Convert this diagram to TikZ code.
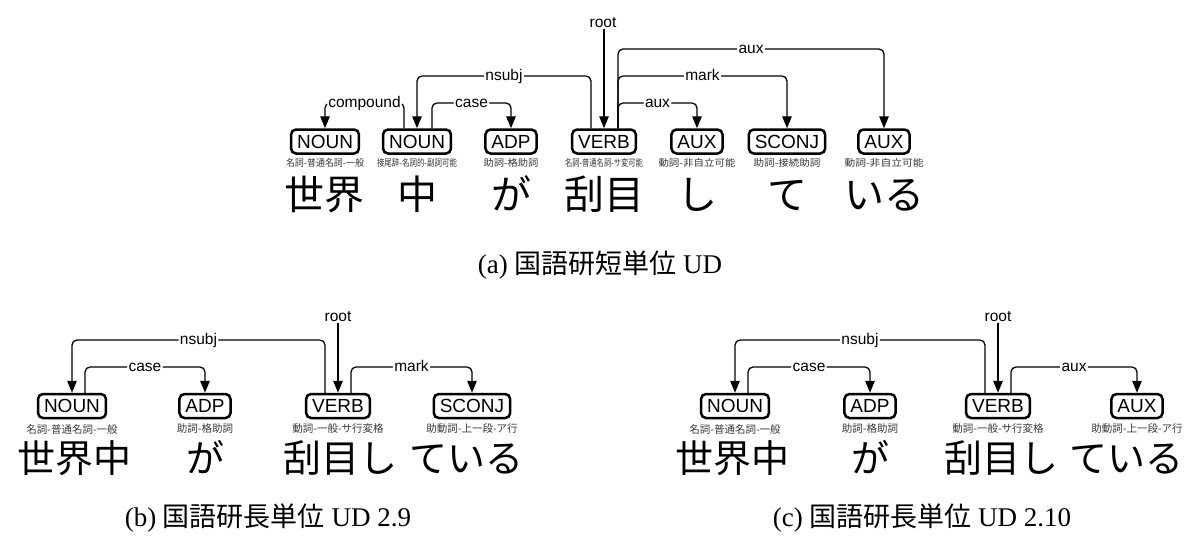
\documentclass[tikz,border=0pt]{standalone}
\usepackage{fontspec}
\usepackage{graphicx}
\setmainfont{Liberation Serif}
\newfontfamily\cjk{Noto Sans CJK JP}
\newfontfamily\lab{Liberation Sans}
\usetikzlibrary{arrows.meta}
\newcommand{\fitsub}[2]{\resizebox{#1pt}{\height}{#2}}
\begin{document}
\begin{tikzpicture}[x=1pt,y=-1pt,
  posbox/.style={draw, line width=2.5pt, rounded corners=5pt,
    font=\lab\fontsize{19}{19}\selectfont, inner xsep=6pt, inner ysep=5.2pt,
    text height=13.6pt, text depth=0pt},
  subT/.style={font=\cjk\fontsize{9.5}{10}\selectfont, text=black!78, inner sep=0pt},
  subB/.style={font=\cjk\fontsize{10.5}{11}\selectfont, text=black!78, inner sep=0pt},
  wordT/.style={font=\cjk\fontsize{40}{40}\selectfont, anchor=base, inner sep=0pt},
  wordB/.style={font=\cjk\fontsize{38}{38}\selectfont, anchor=base, inner sep=0pt},
  dep/.style={line width=1.3pt, rounded corners=5pt, -{Triangle[length=12pt,width=9.5pt]}},
  lbl/.style={fill=white, font=\lab\fontsize{15.5}{15.5}\selectfont, inner xsep=1.5pt,
    inner ysep=1pt, text height=8pt, text depth=0pt},
  rootlbl/.style={font=\lab\fontsize{15.5}{15.5}\selectfont, inner xsep=2pt,
    inner ysep=1.5pt, text height=8pt, text depth=0pt},
  caption/.style={font=\fontsize{27}{30}\selectfont, inner sep=0pt}
]
\useasboundingbox (0,0) rectangle (1191,536);

% ---------------- panel (a) ----------------
\node[posbox] (a1) at (325,141.5) {NOUN};
\node[posbox] (a2) at (417,141.5) {NOUN};
\node[posbox] (a3) at (511,141.5) {ADP};
\node[posbox] (a4) at (604,141.5) {VERB};
\node[posbox] (a5) at (697,141.5) {AUX};
\node[posbox] (a6) at (787,141.5) {SCONJ};
\node[posbox] (a7) at (884,141.5) {AUX};

\node[subT] (sa1) at (325,163) {\fitsub{78}{名詞-普通名詞-一般}};
\node[subT] (sa2) at (417,163) {\fitsub{80}{接尾辞-名詞的-副詞可能}};
\node[subT] (sa3) at (511,163) {\fitsub{55}{助詞-格助詞}};
\node[subT] (sa4) at (604,163) {\fitsub{78}{名詞-普通名詞-サ変可能}};
\node[subT] (sa5) at (697,163) {\fitsub{77}{動詞-非自立可能}};
\node[subT] (sa6) at (787,163) {\fitsub{67}{助詞-接続助詞}};
\node[subT] (sa7) at (884,163) {\fitsub{79}{動詞-非自立可能}};

\node[wordT] (wa1) at (324,209) {世界};
\node[wordT] (wa2) at (417,209) {中};
\node[wordT] (wa3) at (511,209) {が};
\node[wordT] (wa4) at (604,209) {刮目};
\node[wordT] (wa5) at (697,209) {し};
\node[wordT] (wa6) at (787,209) {て};
\node[wordT] (wa7) at (884,209) {いる};

\coordinate (a2L) at ([xshift=-13pt]a2.north);
\coordinate (a2R) at ([xshift=15pt]a2.north);
\coordinate (a4L) at ([xshift=-13pt]a4.north);
\coordinate (a4R) at ([xshift=14pt]a4.north);

\draw[dep] (a2L) -- (a2L |- 0,103) -- node[lbl]{compound} (a1.north |- 0,103) -- (a1.north);
\draw[dep] (a2R) -- (a2R |- 0,103) -- node[lbl]{case} (a3.north |- 0,103) -- (a3.north);
\draw[dep] (a4L) -- (a4L |- 0,76) -- node[lbl]{nsubj} (a2.north |- 0,76) -- (a2.north);
\draw[dep] (a4R) -- (a4R |- 0,49) -- node[lbl]{aux} (a7.north |- 0,49) -- (a7.north);
\draw[dep] (a4R) -- (a4R |- 0,76) -- node[lbl]{mark} (a6.north |- 0,76) -- (a6.north);
\draw[dep] (a4R) -- (a4R |- 0,103) -- node[lbl]{aux} (a5.north |- 0,103) -- (a5.north);
\node[rootlbl] (ra) at (603,23) {root};
\draw[dep] (ra.south -| a4.north) -- (a4.north);

\node[caption] (capa) at (600,265) {(a) {\cjk 国語研短単位} UD};

% ---------------- panel (b) ----------------
\node[posbox] (b1) at (72,406) {NOUN};
\node[posbox] (b2) at (205,406) {ADP};
\node[posbox] (b3) at (338,406) {VERB};
\node[posbox] (b4) at (472,406) {SCONJ};

\node[subB] (sb1) at (72,429) {名詞-普通名詞-一般};
\node[subB] (sb2) at (205,429) {助詞-格助詞};
\node[subB] (sb3) at (338,429) {動詞-一般-サ行変格};
\node[subB] (sb4) at (472,429) {助動詞-上一段-ア行};

\node[wordB] (wb1) at (74,472) {世界中};
\node[wordB] (wb2) at (205,472) {が};
\node[wordB] (wb3) at (340,472) {刮目し};
\node[wordB] (wb4) at (466,472) {ている};

\coordinate (b1R) at ([xshift=13pt]b1.north);
\coordinate (b3L) at ([xshift=-13pt]b3.north);
\coordinate (b3R) at ([xshift=13pt]b3.north);
\draw[dep] (b3L) -- (b3L |- 0,340) -- node[lbl]{nsubj} (b1.north |- 0,340) -- (b1.north);
\draw[dep] (b1R) -- (b1R |- 0,367) -- node[lbl]{case} (b2.north |- 0,367) -- (b2.north);
\draw[dep] (b3R) -- (b3R |- 0,367) -- node[lbl]{mark} (b4.north |- 0,367) -- (b4.north);
\node[rootlbl] (rb) at (338,317) {root};
\draw[dep] (rb.south -| b3.north) -- (b3.north);

\node[caption] (capb) at (268,518) {(b) {\cjk 国語研長単位} UD 2.9};

% ---------------- panel (c) ----------------
\node[posbox] (c1) at (735,406) {NOUN};
\node[posbox] (c2) at (870,406) {ADP};
\node[posbox] (c3) at (998,406) {VERB};
\node[posbox] (c4) at (1137,406) {AUX};

\node[subB] (sc1) at (735,429) {名詞-普通名詞-一般};
\node[subB] (sc2) at (870,429) {助詞-格助詞};
\node[subB] (sc3) at (998,429) {動詞-一般-サ行変格};
\node[subB] (sc4) at (1137,429) {助動詞-上一段-ア行};

\node[wordB] (wc1) at (732,472) {世界中};
\node[wordB] (wc2) at (870,472) {が};
\node[wordB] (wc3) at (1001,472) {刮目し};
\node[wordB] (wc4) at (1126,472) {ている};

\coordinate (c1R) at ([xshift=13pt]c1.north);
\coordinate (c3L) at ([xshift=-13pt]c3.north);
\coordinate (c3R) at ([xshift=13pt]c3.north);
\draw[dep] (c3L) -- (c3L |- 0,340) -- node[lbl]{nsubj} (c1.north |- 0,340) -- (c1.north);
\draw[dep] (c1R) -- (c1R |- 0,367) -- node[lbl]{case} (c2.north |- 0,367) -- (c2.north);
\draw[dep] (c3R) -- (c3R |- 0,367) -- node[lbl]{aux} (c4.north |- 0,367) -- (c4.north);
\node[rootlbl] (rc) at (998,317) {root};
\draw[dep] (rc.south -| c3.north) -- (c3.north);

\node[caption] (capc) at (922,518) {(c) {\cjk 国語研長単位} UD 2.10};
\end{tikzpicture}
\end{document}
